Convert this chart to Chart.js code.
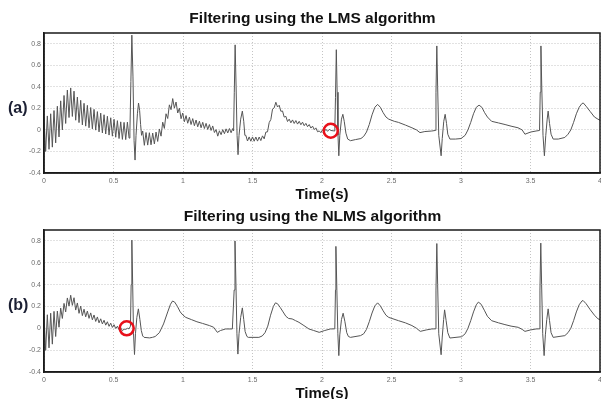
<!DOCTYPE html>
<html>
<head>
<meta charset="utf-8">
<script src="https://cdn.jsdelivr.net/npm/chart.js@4.4.0/dist/chart.umd.min.js"></script>
<style>
  html, body { margin: 0; padding: 0; background: #fff; overflow: hidden; }
  #page { position: relative; width: 601px; height: 399px; overflow: hidden; }
  canvas { position: absolute; left: 0; }
  #lmsChart { top: 0; }
  #nlmsChart { top: 200px; }
  .plot-title { position: absolute; left: 0; width: 625px; text-align: center;
    font: bold 15.5px "Liberation Sans", Arial, sans-serif; line-height: 18px; color: #111; }
  .panel-tag { position: absolute; left: 8px; font: bold 16px "Liberation Sans", Arial, sans-serif;
    line-height: 16px; color: #1b1f33; }
</style>
</head>
<body>
<div id="page">
  <canvas id="lmsChart" width="625" height="204"></canvas>
  <canvas id="nlmsChart" width="625" height="203"></canvas>
  <div class="plot-title" style="top:9px">Filtering using the LMS algorithm</div>
  <div class="plot-title" style="top:207px">Filtering using the NLMS algorithm</div>
  <div class="panel-tag" style="top:100px">(a)</div>
  <div class="panel-tag" style="top:297px">(b)</div>
</div>
<script>
// axes
var xTickValues = [0, 0.5, 1, 1.5, 2, 2.5, 3, 3.5, 4];
var yTickValues = [-0.4, -0.2, 0, 0.2, 0.4, 0.6, 0.8];
var sampleStep = 0.012; // spacing of the read-off samples in the noisy stretches (s)

// (a) LMS: noisy stretches, one value every sampleStep from each start time
var lmsNoisyStarts = [0, 0.71, 1.452];
var lmsNoisy1 = [
  0.11, -0.20, 0.13, -0.18, 0.15, -0.16, 0.18, -0.12, 0.22, -0.065,
  0.27, 0.0, 0.32, 0.06, 0.37, 0.115, 0.39, 0.125, 0.36, 0.09,
  0.305, 0.068, 0.275, 0.047, 0.247, 0.035, 0.228, 0.02, 0.208, 0.01,
  0.191, -0.002, 0.17, -0.018, 0.156, -0.028, 0.141, -0.038, 0.127, -0.048,
  0.113, -0.058, 0.099, -0.068, 0.086, -0.08, 0.075, -0.088, 0.07, -0.09,
  0.072, -0.076
];
var lmsNoisy2 = [
  -0.01, -0.143, -0.024, -0.141, -0.026, -0.138, -0.029, -0.13, -0.02, -0.107,
  0.009, -0.058, 0.072, 0.014, 0.15, 0.106, 0.233, 0.188, 0.291, 0.202,
  0.259, 0.157, 0.202, 0.104, 0.157, 0.076, 0.133, 0.062, 0.118, 0.05,
  0.105, 0.039, 0.092, 0.029, 0.081, 0.02, 0.071, 0.013, 0.061, 0.004,
  0.05, -0.005, 0.037, -0.024, 0.003, -0.058, -0.008, -0.044, 0.003, -0.035,
  0.01, -0.028, 0.013, -0.026, 0.013
];
var lmsNoisy3 = [
  -0.05, -0.103, -0.065, -0.105, -0.065, -0.105, -0.066, -0.104, -0.066, -0.099,
  -0.055, -0.083, -0.02, -0.018, 0.068, 0.097, 0.193, 0.205, 0.257, 0.213,
  0.229, 0.173, 0.176, 0.119, 0.126, 0.078, 0.1, 0.066, 0.093, 0.06,
  0.087, 0.054, 0.08, 0.048, 0.072, 0.039, 0.061, 0.03, 0.05, 0.017,
  0.035, 0.003, 0.019, -0.017, -0.009, -0.026, 0.001, -0.016, 0.006, -0.013,
  0.005
];
// (a) LMS: clean parts
var lmsCleanTimes = [
  0.618, 0.625, 0.632, 0.64, 0.648, 0.655, 0.662, 0.672, 0.68, 0.688, 0.695, 0.702,
  1.364, 1.369, 1.375, 1.382, 1.389, 1.396, 1.403, 1.415, 1.427, 1.437, 1.445,
  2.064, 2.08, 2.092, 2.097, 2.103, 2.109, 2.115, 2.121, 2.128, 2.14,
  2.15, 2.16, 2.172, 2.185, 2.205, 2.24, 2.28, 2.3, 2.32, 2.34,
  2.36, 2.38, 2.4, 2.42, 2.44, 2.46, 2.48, 2.52, 2.55, 2.6,
  2.647, 2.68, 2.705, 2.74, 2.79, 2.815, 2.82, 2.826, 2.832, 2.84,
  2.857, 2.865, 2.876, 2.886, 2.896, 2.905, 2.92, 2.96, 3.0, 3.03,
  3.05, 3.07, 3.09, 3.11, 3.13, 3.15, 3.17, 3.19, 3.22, 3.27,
  3.317, 3.36, 3.41, 3.44, 3.46, 3.5, 3.54, 3.565, 3.57, 3.575,
  3.581, 3.59, 3.6, 3.61, 3.62, 3.627, 3.637, 3.648, 3.663, 3.7,
  3.747, 3.77, 3.79, 3.81, 3.83, 3.85, 3.87, 3.88, 3.9, 3.93,
  3.96, 3.985, 4.0
];
var lmsCleanValues = [
  -0.02, 0.45, 0.88, 0.5, -0.1, -0.28, -0.05, 0.15, 0.25, 0.18, 0.05, -0.05,
  -0.01, 0.35, 0.79, 0.4, -0.05, -0.23, -0.05, 0.1, 0.175, 0.08, -0.05,
  -0.005, -0.008, -0.01, 0.3, 0.745, 0.35, -0.05, -0.24, -0.05, 0.1,
  0.145, 0.08, -0.03, -0.085, -0.1, -0.09, -0.08, -0.06, -0.02, 0.05,
  0.14, 0.21, 0.237, 0.21, 0.16, 0.12, 0.1, 0.08, 0.07, 0.045,
  0.02, 0.0, -0.025, -0.015, -0.01, -0.005, 0.35, 0.78, 0.4, -0.05,
  -0.24, -0.08, 0.08, 0.145, 0.06, -0.04, -0.085, -0.085, -0.08, -0.05,
  0.0, 0.07, 0.15, 0.21, 0.23, 0.21, 0.16, 0.12, 0.08, 0.065,
  0.05, 0.035, 0.02, 0.0, -0.04, -0.02, -0.01, -0.005, 0.35, 0.78,
  0.4, -0.05, -0.24, -0.05, 0.1, 0.175, 0.06, -0.04, -0.085, -0.085,
  -0.07, -0.04, 0.0, 0.07, 0.15, 0.21, 0.245, 0.25, 0.22, 0.17,
  0.12, 0.1, 0.09
];
var lmsMarker = [2.063, -0.008]; // red circle (time, value)

// (b) NLMS: noisy start, one value every sampleStep from 0 s
var nlmsNoisyStarts = [0];
var nlmsNoisy = [
  0.11, -0.202, 0.124, -0.179, 0.138, -0.145, 0.155, -0.075, 0.158, 0.01,
  0.185, 0.09, 0.228, 0.15, 0.278, 0.204, 0.303, 0.21, 0.28, 0.167,
  0.232, 0.137, 0.203, 0.116, 0.175, 0.105, 0.158, 0.091, 0.141, 0.078,
  0.122, 0.063, 0.104, 0.05, 0.087, 0.04, 0.074, 0.029, 0.06, 0.018,
  0.047, 0.008, 0.033, -0.002, 0.019, -0.012, 0.006, -0.022, -0.008
];
var nlmsCleanTimes = [
  0.588, 0.6, 0.612, 0.622, 0.627, 0.632, 0.638, 0.644, 0.651, 0.658,
  0.668, 0.679, 0.69, 0.7, 0.71, 0.72, 0.76, 0.78, 0.8, 0.83,
  0.86, 0.89, 0.91, 0.925, 0.94, 0.96, 0.98, 1.0, 1.02, 1.06,
  1.1, 1.14, 1.19, 1.22, 1.247, 1.27, 1.307, 1.355, 1.368, 1.374,
  1.381, 1.388, 1.395, 1.403, 1.415, 1.427, 1.437, 1.447, 1.46, 1.47,
  1.546, 1.57, 1.59, 1.61, 1.63, 1.65, 1.665, 1.68, 1.7, 1.72,
  1.74, 1.76, 1.785, 1.81, 1.834, 1.87, 1.906, 1.94, 1.98, 2.02,
  2.06, 2.092, 2.097, 2.1, 2.107, 2.114, 2.121, 2.128, 2.14, 2.152,
  2.165, 2.178, 2.19, 2.205, 2.277, 2.3, 2.32, 2.34, 2.36, 2.38,
  2.4, 2.42, 2.44, 2.46, 2.48, 2.55, 2.6, 2.647, 2.68, 2.707,
  2.75, 2.79, 2.814, 2.82, 2.826, 2.832, 2.84, 2.857, 2.865, 2.875,
  2.882, 2.893, 2.905, 2.92, 3.005, 3.03, 3.05, 3.07, 3.09, 3.11,
  3.125, 3.145, 3.17, 3.19, 3.22, 3.27, 3.316, 3.36, 3.412, 3.44,
  3.46, 3.5, 3.54, 3.562, 3.568, 3.574, 3.58, 3.588, 3.598, 3.607,
  3.617, 3.627, 3.637, 3.648, 3.663, 3.747, 3.77, 3.79, 3.81, 3.83,
  3.85, 3.87, 3.878, 3.9, 3.93, 3.96, 3.986, 4.0
];
var nlmsCleanValues = [
  -0.01, 0.0, -0.005, 0.02, 0.4, 0.807, 0.4, -0.05, -0.24, -0.05,
  0.1, 0.178, 0.08, -0.02, -0.07, -0.083, -0.088, -0.083, -0.075, -0.04,
  0.04, 0.15, 0.22, 0.25, 0.24, 0.2, 0.15, 0.12, 0.1, 0.08,
  0.06, 0.045, 0.025, 0.01, -0.037, -0.02, -0.006, -0.006, 0.35, 0.8,
  0.4, -0.05, -0.236, -0.05, 0.1, 0.187, 0.08, -0.03, -0.075, -0.083,
  -0.083, -0.07, -0.04, 0.02, 0.12, 0.2, 0.233, 0.225, 0.19, 0.15,
  0.11, 0.09, 0.086, 0.07, 0.055, 0.025, -0.006, -0.02, -0.037, -0.02,
  -0.006, -0.005, 0.35, 0.75, 0.35, -0.05, -0.25, -0.06, 0.08, 0.138,
  0.06, -0.04, -0.075, -0.083, -0.067, -0.05, -0.01, 0.06, 0.14, 0.205,
  0.233, 0.205, 0.16, 0.12, 0.1, 0.07, 0.05, 0.025, 0.0, -0.028,
  -0.015, -0.006, -0.005, 0.35, 0.776, 0.4, -0.05, -0.242, -0.08, 0.08,
  0.169, 0.07, -0.04, -0.089, -0.077, -0.05, 0.0, 0.07, 0.15, 0.215,
  0.24, 0.22, 0.16, 0.11, 0.07, 0.05, 0.034, 0.02, 0.009, -0.01,
  -0.028, -0.015, -0.006, -0.005, 0.35, 0.78, 0.4, -0.05, -0.25, -0.06,
  0.08, 0.178, 0.07, -0.04, -0.083, -0.067, -0.04, 0.0, 0.07, 0.15,
  0.215, 0.25, 0.255, 0.225, 0.17, 0.12, 0.086, 0.08
];
var nlmsMarker = [0.595, 0.0];

var fontFamily = '"Liberation Sans", Arial, sans-serif';

function buildPoints(noisyStarts, noisyLists, cleanTimes, cleanValues) {
    var points = [];
    noisyLists.forEach(function (list, k) {
        list.forEach(function (v, i) {
            points.push({ x: noisyStarts[k] + i * sampleStep, y: v });
        });
    });
    cleanTimes.forEach(function (t, i) {
        points.push({ x: t, y: cleanValues[i] });
    });
    points.sort(function (a, b) { return a.x - b.x; });
    return points;
}

// black box round the plot area, like the MATLAB axes
var framePlugin = {
    id: 'frame',
    afterDraw: function (chart) {
        var a = chart.chartArea;
        var ctx = chart.ctx;
        ctx.save();
        ctx.strokeStyle = '#1a1a1a';
        ctx.lineWidth = 1.5;
        ctx.strokeRect(a.left, a.top, a.right - a.left, a.bottom - a.top);
        ctx.restore();
    }
};

function makeChart(canvasId, points, marker, topPad, xAxisHeight) {
    var ctx = document.getElementById(canvasId).getContext('2d');
    var gridStyle = { color: '#c4c4c4', drawTicks: false };
    var borderStyle = { color: '#1a1a1a', width: 1.5, dash: [1, 2] };
    var tickFont = { family: fontFamily, size: 7 };
    return new Chart(ctx, {
        type: 'line',
        data: {
            datasets: [{
                data: points,
                borderColor: '#555555',
                borderWidth: 1,
                pointRadius: 0,
                tension: 0,
                order: 2
            }, {
                type: 'scatter',
                data: [{ x: marker[0], y: marker[1] }],
                pointRadius: 7,
                pointHoverRadius: 7,
                pointBorderColor: '#e8101a',
                pointBackgroundColor: 'rgba(0,0,0,0)',
                pointBorderWidth: 2.5,
                order: 1
            }]
        },
        options: {
            responsive: false,
            animation: false,
            devicePixelRatio: 1,
            events: [],
            layout: { padding: { left: 0, right: 25, top: topPad, bottom: 0 } },
            plugins: {
                legend: { display: false },
                tooltip: { enabled: false },
                title: { display: false }
            },
            scales: {
                x: {
                    type: 'linear',
                    min: 0,
                    max: 4,
                    afterBuildTicks: function (scale) {
                        scale.ticks = xTickValues.map(function (v) { return { value: v }; });
                    },
                    afterFit: function (scale) { scale.height = xAxisHeight; },
                    ticks: {
                        font: tickFont, color: '#6b6b6b', padding: 4,
                        maxRotation: 0, autoSkip: false,
                        callback: function (v) { return String(v); }
                    },
                    grid: gridStyle,
                    border: borderStyle,
                    title: {
                        display: true, text: 'Time(s)', color: '#111', padding: 0,
                        font: { family: fontFamily, size: 15, weight: 'bold' }
                    }
                },
                y: {
                    min: -0.4,
                    max: 0.9,
                    afterBuildTicks: function (scale) {
                        scale.ticks = yTickValues.map(function (v) { return { value: v }; });
                    },
                    afterFit: function (scale) { scale.width = 44; },
                    ticks: {
                        font: tickFont, color: '#6b6b6b', padding: 3,
                        callback: function (v) { return String(v); }
                    },
                    grid: gridStyle,
                    border: borderStyle
                }
            }
        },
        plugins: [framePlugin]
    });
}

makeChart('lmsChart',
    buildPoints(lmsNoisyStarts, [lmsNoisy1, lmsNoisy2, lmsNoisy3], lmsCleanTimes, lmsCleanValues),
    lmsMarker, 33, 31);
makeChart('nlmsChart',
    buildPoints(nlmsNoisyStarts, [nlmsNoisy], nlmsCleanTimes, nlmsCleanValues),
    nlmsMarker, 30, 31);
</script>
</body>
</html>
